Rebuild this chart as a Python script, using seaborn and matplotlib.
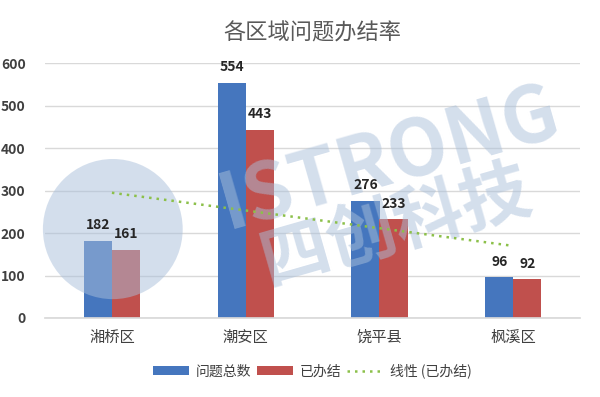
import numpy as np
import pandas as pd
import matplotlib
matplotlib.use('Agg')
import matplotlib.pyplot as plt
import seaborn as sns
from matplotlib.patches import Ellipse

# data
regions = ['湘桥区', '潮安区', '饶平县', '枫溪区']
total = [182, 554, 276, 96]
done = [161, 443, 233, 92]
series = ['问题总数', '已办结']
colors = ['#4576BE', '#C0504D']

df = pd.DataFrame({
    'region': regions * 2,
    'series': [series[0]] * 4 + [series[1]] * 4,
    'value': total + done,
})

sns.set_theme(style='white')
plt.rcParams['font.family'] = ['Noto Sans CJK SC', 'DejaVu Sans']

fig = plt.figure(figsize=(6, 3.97), dpi=100)
ax = fig.add_axes([0.075, 0.199, 0.892, 0.642])

sns.barplot(data=df, x='region', y='value', hue='series', palette=colors,
            width=0.42, saturation=1, linewidth=0, ax=ax, zorder=2)

# watermark (logo circle + company name), drawn over the bars
wm = '#A9BFDA'
ax.add_patch(Ellipse((0.188, 0.423), 0.233, 0.353, transform=fig.transFigure,
                     facecolor=wm, alpha=0.5, edgecolor='none', zorder=3,
                     clip_on=False))
ax.text(0.65, 0.60, 'ISTRONG', transform=fig.transFigure, fontsize=56,
        fontweight='bold', color=wm, alpha=0.5, rotation=16, ha='center',
        va='center', zorder=3)
ax.text(0.66, 0.43, '四创科技', transform=fig.transFigure, fontsize=50,
        fontweight='bold', color=wm, alpha=0.5, rotation=16, ha='center',
        va='center', zorder=3)

for cont in ax.containers:
    ax.bar_label(cont, padding=6, fontsize=10, fontweight='bold',
                 color='#262626', zorder=6)

# linear trend of 已办结
xs = np.arange(len(regions))
k, b = np.polyfit(xs, done, 1)
ax.plot(xs, k * xs + b, linestyle=(0, (1, 2)), color='#8CC04A', lw=1.8,
        label='线性 (已办结)', zorder=5)

ax.set_ylim(0, 600)
ax.set_xlim(-0.5, 3.5)
ax.set_yticks(range(0, 601, 100))
ax.yaxis.grid(True, color='#D9D9D9', lw=1)
ax.set_axisbelow(True)
for s in ['top', 'right', 'left']:
    ax.spines[s].set_visible(False)
ax.spines['bottom'].set_color('#D9D9D9')
ax.set_xlabel('')
ax.set_ylabel('')
ax.tick_params(axis='y', length=0, pad=14, labelsize=10, labelcolor='#404040')
ax.tick_params(axis='x', length=0, pad=8, labelsize=11, labelcolor='#404040')
for t in ax.get_yticklabels():
    t.set_fontweight('bold')

ax.set_title('各区域问题办结率', fontsize=16, color='#595959', pad=17)

h, l = ax.get_legend_handles_labels()
ax.legend(h, l, loc='upper center', bbox_to_anchor=(0.5, -0.13), ncol=3,
          frameon=False, fontsize=10, handlelength=2.6, handleheight=0.6,
          columnspacing=0.4, handletextpad=0.5, labelcolor='#404040')

fig.savefig('out.png', dpi=100)
